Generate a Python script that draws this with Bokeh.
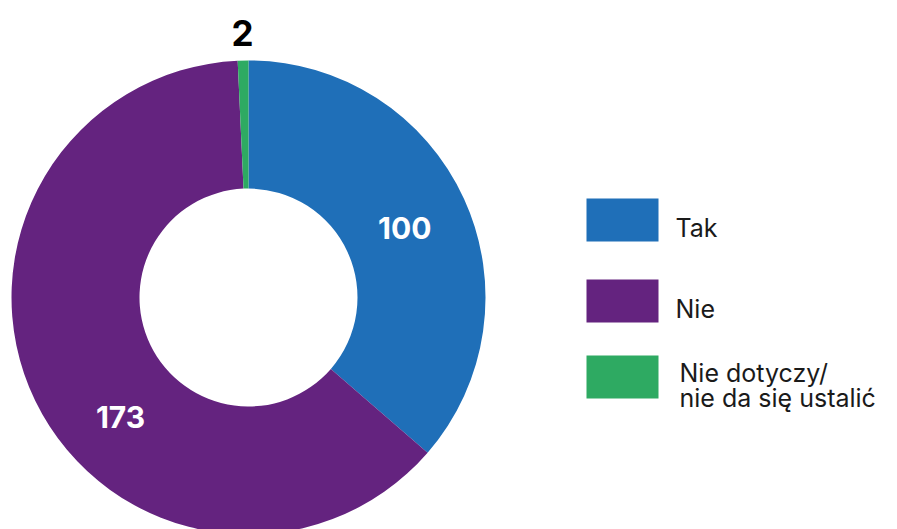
import math
from bokeh.plotting import figure
from bokeh.models import ColumnDataSource
from bokeh.core.properties import value
from bokeh.embed import file_html
from bokeh.resources import INLINE

categories = ["Tak", "Nie", "Nie dotyczy/\nnie da się ustalić"]
values = [100, 173, 2]
colors = ["#1F6FB8", "#64237F", "#2EAA62"]
label_colors = ["white", "white", "black"]

W, H = 897, 529
FONT = "Inter"

p = figure(width=W, height=H, x_range=(-8, W - 8), y_range=(-8, H - 8),
           output_backend="svg", toolbar_location=None, min_border=0)
p.axis.visible = False
p.grid.visible = False
p.outline_line_color = None
p.background_fill_color = "white"

cx, cy = 240, 224
r_out, r_in = 237, 109

total = sum(values)
starts, ends = [], []
acc = 0.0
for v in values:
    a0 = math.pi / 2 - 2 * math.pi * acc / total
    acc += v
    a1 = math.pi / 2 - 2 * math.pi * acc / total
    starts.append(a0)
    ends.append(a1)

src = ColumnDataSource(dict(start=starts, end=ends, color=colors))
p.annular_wedge(x=cx, y=cy, inner_radius=r_in, outer_radius=r_out,
                start_angle="start", end_angle="end", direction="clock",
                fill_color="color", line_color=None, source=src)

# data labels (angle measured clockwise from top, radius from centre)
mid_deg = [(90 - math.degrees((s + e) / 2)) for s, e in zip(starts, ends)]
label_deg = [mid_deg[0] + 0.5, 227.0, mid_deg[2]]
label_r = [171, 175, 265]
label_size = ["30px", "30px", "35px"]
lx = [cx + r * math.sin(math.radians(d)) for r, d in zip(label_r, label_deg)]
ly = [cy + r * math.cos(math.radians(d)) for r, d in zip(label_r, label_deg)]
for i, v in enumerate(values):
    p.text(x=[lx[i]], y=[ly[i]], text=[str(v)], text_align="center",
           text_baseline="middle", text_color=label_colors[i],
           text_font=value(FONT), text_font_style="bold",
           text_font_size=label_size[i])

# legend
sw_x0, sw_w, sw_h = 578, 72, 43
sw_top = [323, 242, 166]
for i, c in enumerate(colors):
    p.quad(left=[sw_x0], right=[sw_x0 + sw_w], top=[sw_top[i]],
           bottom=[sw_top[i] - sw_h], fill_color=c, line_color=None)

text_x = [667, 667, 671]
baselines = [[294], [213], [149, 124]]
for i, cat in enumerate(categories):
    lines = cat.split("\n")
    for j, line in enumerate(lines):
        p.text(x=[text_x[i]], y=[baselines[i][j]], text=[line],
               text_align="left", text_baseline="alphabetic",
               text_color="#1a1a1a", text_font=value(FONT),
               text_font_size="25px")

open("out.html", "w").write(file_html(p, INLINE))
